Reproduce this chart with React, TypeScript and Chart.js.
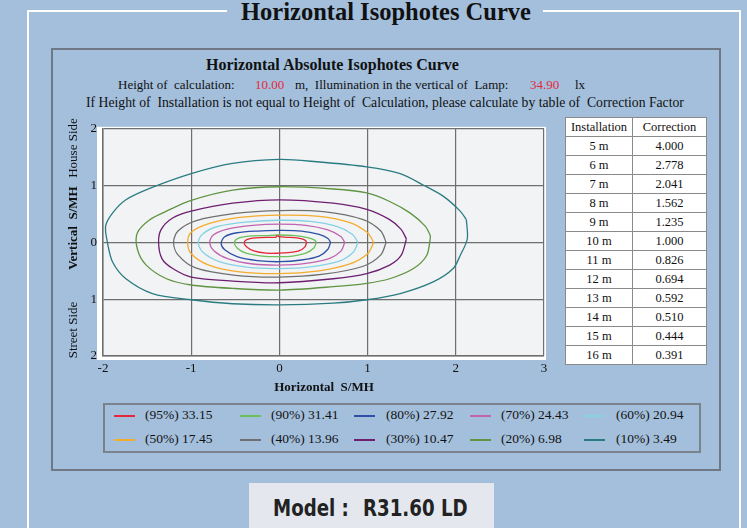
import React, { useEffect, useRef } from 'react';
import { Chart, registerables } from 'chart.js';
Chart.register(...registerables);

type P = [number, number];

const xTicks = [-2, -1, 0, 1, 2, 3];
const yTicks = [-2, -1, 0, 1, 2];

const levelLabels = [
  '(95%) 33.15', '(90%) 31.41', '(80%) 27.92', '(70%) 24.43', '(60%) 20.94',
  '(50%) 17.45', '(40%) 13.96', '(30%) 10.47', '(20%) 6.98', '(10%) 3.49',
];
const levelColors = [
  '#e4283a', '#6cc05a', '#2d4fa6', '#c064b0', '#86d2e4',
  '#f4ac2c', '#707070', '#6e1f70', '#5f9442', '#2a7c82',
];

const curve95: P[] = [[0.31,0.01],[0.29,-0.08],[0.22,-0.15],[0.1,-0.18],[0,-0.19],[-0.15,-0.19],[-0.29,-0.15],[-0.37,-0.08],[-0.4,-0.01],[-0.37,0.05],[-0.27,0.08],[-0.12,0.09],[-0.04,0.09],[-0.03,0.12],[0,0.1],[0.08,0.09],[0.2,0.08],[0.28,0.05],[0.31,0.01]];
const curve90: P[] = [[0.42,0],[0.39,-0.1],[0.3,-0.19],[0.15,-0.24],[0,-0.25],[-0.2,-0.24],[-0.38,-0.19],[-0.48,-0.1],[-0.51,0],[-0.47,0.07],[-0.35,0.11],[-0.15,0.12],[-0.02,0.13],[0.18,0.12],[0.33,0.08],[0.4,0.04],[0.42,0]];
const curve80: P[] = [[0.58,0],[0.55,-0.12],[0.45,-0.24],[0.25,-0.31],[0,-0.34],[-0.25,-0.32],[-0.48,-0.25],[-0.62,-0.13],[-0.66,-0.02],[-0.62,0.1],[-0.48,0.17],[-0.25,0.2],[0,0.21],[0.25,0.2],[0.45,0.14],[0.55,0.07],[0.58,0]];
const curve70: P[] = [[0.74,0],[0.7,-0.15],[0.57,-0.28],[0.3,-0.37],[0,-0.4],[-0.3,-0.38],[-0.58,-0.29],[-0.74,-0.15],[-0.79,0],[-0.75,0.13],[-0.6,0.23],[-0.3,0.3],[0,0.32],[0.3,0.3],[0.55,0.22],[0.7,0.1],[0.74,0]];
const curve60: P[] = [[0.89,0],[0.84,-0.17],[0.68,-0.33],[0.35,-0.43],[0,-0.46],[-0.35,-0.44],[-0.68,-0.34],[-0.87,-0.17],[-0.92,0],[-0.87,0.15],[-0.7,0.28],[-0.35,0.36],[0,0.39],[0.35,0.37],[0.65,0.28],[0.83,0.14],[0.89,0]];
const curve50: P[] = [[1.07,0],[1,-0.2],[0.8,-0.38],[0.45,-0.5],[0,-0.55],[-0.45,-0.52],[-0.8,-0.4],[-1,-0.2],[-1.04,0],[-1,0.18],[-0.8,0.33],[-0.45,0.44],[0,0.48],[0.45,0.46],[0.8,0.35],[1,0.17],[1.07,0]];
const curve40: P[] = [[1.21,0],[1.15,-0.22],[0.95,-0.42],[0.5,-0.56],[0,-0.61],[-0.5,-0.58],[-0.95,-0.45],[-1.15,-0.22],[-1.2,0],[-1.15,0.2],[-0.95,0.38],[-0.5,0.51],[0,0.56],[0.5,0.54],[0.95,0.4],[1.15,0.2],[1.21,0]];
const curve30: P[] = [[1.44,0.06],[1.38,-0.23],[1.25,-0.4],[0.99,-0.55],[0.61,-0.64],[0,-0.71],[-0.53,-0.68],[-1,-0.61],[-1.21,-0.46],[-1.33,-0.29],[-1.37,0],[-1.34,0.23],[-1.21,0.43],[-1,0.55],[-0.53,0.69],[0,0.75],[0.61,0.69],[0.99,0.58],[1.25,0.4],[1.38,0.23],[1.44,0.06]];
const curve20: P[] = [[1.71,0.06],[1.67,-0.23],[1.52,-0.46],[1.25,-0.64],[0.99,-0.72],[0.61,-0.78],[0,-0.84],[-0.53,-0.81],[-1,-0.75],[-1.28,-0.64],[-1.51,-0.4],[-1.61,-0.12],[-1.61,0.17],[-1.47,0.4],[-1.28,0.55],[-1,0.74],[-0.53,0.92],[0,0.98],[0.61,0.94],[0.99,0.87],[1.25,0.72],[1.48,0.52],[1.65,0.29],[1.71,0.12],[1.71,0.06]];
const curve10: P[] = [[2.12,0.4],[2.13,0.06],[2.05,-0.23],[1.97,-0.46],[1.75,-0.69],[1.37,-0.9],[0.99,-1.01],[0.61,-1.07],[0,-1.1],[-0.53,-1.08],[-1,-1.01],[-1.44,-0.9],[-1.74,-0.64],[-1.89,-0.35],[-1.95,0],[-1.97,0.29],[-1.89,0.52],[-1.74,0.75],[-1.47,0.95],[-1,1.21],[-0.53,1.39],[0,1.46],[0.42,1.42],[0.99,1.33],[1.37,1.21],[1.63,1.01],[1.86,0.81],[2.05,0.55],[2.12,0.4]];

const curves: P[][] = [curve95, curve90, curve80, curve70, curve60, curve50, curve40, curve30, curve20, curve10];

const installHeights = ['5 m', '6 m', '7 m', '8 m', '9 m', '10 m', '11 m', '12 m', '13 m', '14 m', '15 m', '16 m'];
const correctionFactors = ['4.000', '2.778', '2.041', '1.562', '1.235', '1.000', '0.826', '0.694', '0.592', '0.510', '0.444', '0.391'];

const SERIF = "'Liberation Serif', 'Times New Roman', serif";
const BG = '#a3bfdc';

const bgPlugin = {
  id: 'plotBg',
  beforeDraw(chart: any) {
    const { ctx, chartArea } = chart;
    const { left, top, right, bottom } = chartArea;
    ctx.save();
    ctx.fillStyle = '#ffffff';
    ctx.fillRect(left - 6, top - 2, right - left + 8, bottom - top + 6);
    ctx.fillStyle = '#f2f3f5';
    ctx.fillRect(left, top, right - left, bottom - top);
    ctx.restore();
  },
};

function IsoChart() {
  const ref = useRef<HTMLCanvasElement | null>(null);
  useEffect(() => {
    if (!ref.current) return;
    const chart = new Chart(ref.current, {
      type: 'scatter',
      data: {
        datasets: curves.map((c, i) => ({
          label: levelLabels[i],
          data: c.map(([x, y]) => ({ x, y })),
          showLine: true,
          borderColor: levelColors[i],
          backgroundColor: levelColors[i],
          borderWidth: 1.3,
          pointRadius: 0,
          tension: 0.3,
          fill: false,
        })),
      },
      options: {
        animation: false,
        responsive: false,
        maintainAspectRatio: false,
        layout: { padding: { left: 0, right: 16, top: 10, bottom: 0 } },
        plugins: { legend: { display: false }, tooltip: { enabled: false } },
        scales: {
          x: {
            type: 'linear',
            min: xTicks[0],
            max: xTicks[xTicks.length - 1],
            afterBuildTicks: (s: any) => { s.ticks = xTicks.map((v) => ({ value: v })); },
            ticks: { color: '#111', font: { family: SERIF, size: 13 }, padding: 5 },
            grid: { color: '#6e6e6e', lineWidth: 1.2, drawTicks: false },
            border: { color: '#6e6e6e', width: 1.5 },
            afterFit: (s: any) => { s.height = 24; },
          },
          y: {
            type: 'linear',
            min: yTicks[0],
            max: yTicks[yTicks.length - 1],
            afterBuildTicks: (s: any) => { s.ticks = yTicks.map((v) => ({ value: v })); },
            ticks: {
              color: '#111',
              font: { family: SERIF, size: 13 },
              padding: 6,
              callback: (v: any) => String(Math.abs(Number(v))),
            },
            grid: { color: '#6e6e6e', lineWidth: 1.2, drawTicks: false },
            border: { color: '#6e6e6e', width: 1.5 },
            afterFit: (s: any) => { s.width = 43; },
          },
        },
      },
      plugins: [bgPlugin],
    } as any);
    return () => chart.destroy();
  }, []);
  return <canvas ref={ref} width={500} height={265} style={{ position: 'absolute', left: 60, top: 115, width: 500, height: 265 }} />;
}

const legendLineX = [114, 240, 354, 470, 584];
const legendTextX = [145, 271, 386, 501, 616];
const legendRows = [415, 439];

export default function App() {
  const abs = (l: number, t: number, extra: React.CSSProperties = {}): React.CSSProperties => ({ position: 'absolute', left: l, top: t, whiteSpace: 'nowrap', ...extra });
  const modelFont: React.CSSProperties = { fontFamily: "'DejaVu Sans Condensed', 'DejaVu Sans', sans-serif", fontWeight: 'bold', fontSize: 23, color: '#222', transform: 'scaleX(0.88)', transformOrigin: 'left center' };
  return (
    <div style={{ position: 'fixed', left: 0, top: 0, width: 747, height: 528, overflow: 'hidden', background: BG, fontFamily: SERIF, color: '#111' }}>
      {/* outer white frame */}
      <div style={{ position: 'absolute', left: 27, top: 10, width: 2, height: 530, background: '#fff' }} />
      <div style={{ position: 'absolute', left: 739, top: 10, width: 2, height: 530, background: '#fff' }} />
      <div style={{ position: 'absolute', left: 27, top: 10, width: 200, height: 2, background: '#fff' }} />
      <div style={{ position: 'absolute', left: 543, top: 10, width: 198, height: 2, background: '#fff' }} />
      <div style={{ position: 'absolute', left: 236, top: -2, width: 300, textAlign: 'center', fontWeight: 'bold', fontSize: 24.5, whiteSpace: 'nowrap' }}>Horizontal Isophotes Curve</div>

      {/* inner gray box */}
      <div style={{ position: 'absolute', left: 51, top: 48, width: 670, height: 423, border: '2px solid #6f7884', boxSizing: 'border-box' }} />

      <div style={abs(206, 56, { fontWeight: 'bold', fontSize: 16 })}>Horizontal Absolute Isophotes Curve</div>
      <div style={abs(118, 77, { fontSize: 13 })}>Height of&nbsp; calculation:</div>
      <div style={abs(255, 77, { fontSize: 13, color: '#e4283a' })}>10.00</div>
      <div style={abs(295, 77, { fontSize: 13 })}>m,&nbsp; Illumination in the vertical of&nbsp; Lamp:</div>
      <div style={abs(530, 77, { fontSize: 13, color: '#e4283a' })}>34.90</div>
      <div style={abs(575, 77, { fontSize: 13 })}>lx</div>
      <div style={abs(86, 95, { fontSize: 13.7 })}>If Height of&nbsp; Installation is not equal to Height of&nbsp; Calculation, please calculate by table of&nbsp; Correction Factor</div>

      <IsoChart />

      {/* y axis titles */}
      <div style={{ position: 'absolute', left: 73, top: 148, transform: 'translate(-50%,-50%) rotate(-90deg)', fontSize: 13, whiteSpace: 'nowrap' }}>House Side</div>
      <div style={{ position: 'absolute', left: 73, top: 228, transform: 'translate(-50%,-50%) rotate(-90deg)', fontSize: 13, fontWeight: 'bold', whiteSpace: 'nowrap' }}>Vertical&nbsp; S/MH</div>
      <div style={{ position: 'absolute', left: 73, top: 330, transform: 'translate(-50%,-50%) rotate(-90deg)', fontSize: 13, whiteSpace: 'nowrap' }}>Street Side</div>
      <div style={{ position: 'absolute', left: 324, top: 387, transform: 'translate(-50%,-50%)', fontSize: 13, fontWeight: 'bold', whiteSpace: 'nowrap' }}>Horizontal&nbsp; S/MH</div>

      {/* correction table */}
      <table style={{ position: 'absolute', left: 565, top: 117, borderCollapse: 'collapse', background: '#fff', fontSize: 12.5, fontFamily: SERIF }}>
        <tbody>
          <tr style={{ height: 19 }}>
            <td style={{ border: '1px solid #8a8a8a', width: 66, padding: 0, textAlign: 'center' }}>Installation</td>
            <td style={{ border: '1px solid #8a8a8a', width: 73, padding: 0, textAlign: 'center' }}>Correction</td>
          </tr>
          {installHeights.map((h, i) => (
            <tr key={h} style={{ height: 19 }}>
              <td style={{ border: '1px solid #8a8a8a', padding: 0, textAlign: 'center' }}>{h}</td>
              <td style={{ border: '1px solid #8a8a8a', padding: 0, textAlign: 'center' }}>{correctionFactors[i]}</td>
            </tr>
          ))}
        </tbody>
      </table>

      {/* legend */}
      <div style={{ position: 'absolute', left: 103, top: 403, width: 598, height: 50, border: '2px solid #7a828c', boxSizing: 'border-box' }} />
      {levelLabels.map((lab, i) => {
        const col = i % 5;
        const cy = legendRows[Math.floor(i / 5)];
        return (
          <React.Fragment key={lab}>
            <div style={{ position: 'absolute', left: legendLineX[col], top: cy, width: 21, height: 1.5, background: levelColors[i] }} />
            <div style={{ position: 'absolute', left: legendTextX[col], top: cy - 8, fontSize: 13.5, whiteSpace: 'nowrap' }}>{lab}</div>
          </React.Fragment>
        );
      })}

      {/* model box */}
      <div style={{ position: 'absolute', left: 249, top: 483, width: 245, height: 50, background: '#e4e8ee' }} />
      <div style={abs(273, 495, modelFont)}>Model :</div>
      <div style={abs(363, 495, modelFont)}>R31.60 LD</div>
    </div>
  );
}
